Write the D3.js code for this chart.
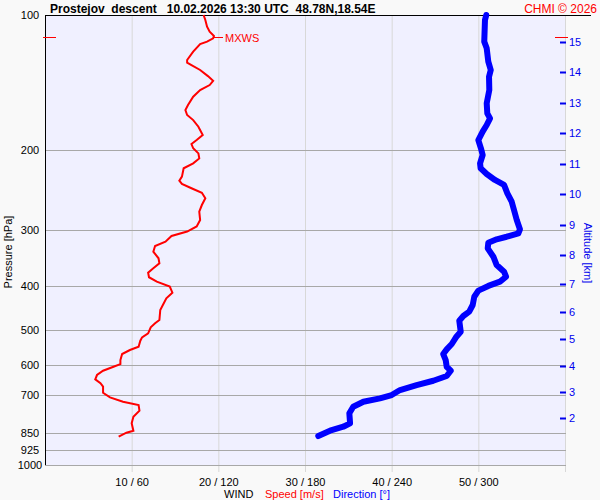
<!DOCTYPE html>
<html>
<head>
<meta charset="utf-8">
<script src="https://cdn.jsdelivr.net/npm/d3@7"></script>
<style>
  body { margin: 0; background: #f9f9f9; }
  svg { display: block; font-family: "Liberation Sans", Arial, sans-serif; }
</style>
</head>
<body>
<div id="chart"></div>
<script>
// wind speed profile (pressure hPa, speed m/s)
const speedP = [100, 102.6, 106.2, 108.9, 111.3, 112.7, 114.6, 116.0, 120.6, 125.9, 127.6, 129.2, 132.5, 136.7, 140.0, 143.1, 146.8, 151.9, 158.5, 162.6, 166.8, 171.2, 177.1, 184.8, 189.6, 193.5, 197.8, 203.0, 208.3, 213.6, 219.1, 228.7, 233.4, 237.4, 242.7, 248.3, 255.5, 264.4, 273.6, 285.5, 295.1, 302.8, 309.8, 319.0, 326.1, 335.7, 347.2, 356.2, 365.4, 373.7, 382.6, 391.3, 401.4, 414.0, 426.1, 441.0, 452.4, 476.1, 484.3, 494.3, 509.7, 520.3, 529.5, 546.0, 555.3, 566.8, 584.5, 596.6, 604.9, 617.3, 631.0, 645.0, 658.2, 669.9, 690.8, 707.4, 723.4, 735.8, 757.5, 781.2, 808.0, 839.2, 847.7, 865.3];
const speedVal = [18.3, 18.5, 18.7, 19.0, 19.5, 19.4, 18.7, 17.9, 17.1, 16.4, 16.4, 16.9, 17.9, 18.8, 19.4, 19.0, 17.9, 17.1, 16.5, 16.2, 16.4, 17.1, 17.7, 18.2, 17.5, 16.9, 17.1, 17.7, 17.8, 17.1, 16.0, 15.8, 15.5, 15.8, 16.9, 18.1, 18.5, 18.1, 17.8, 17.9, 17.5, 16.4, 14.6, 13.9, 12.7, 12.5, 13.1, 13.2, 12.5, 11.9, 12.0, 12.9, 14.4, 14.7, 14.0, 13.6, 13.3, 13.2, 12.7, 12.2, 11.9, 11.2, 11.0, 10.8, 9.8, 8.9, 8.7, 8.7, 7.9, 6.7, 6.0, 5.8, 6.4, 6.7, 6.7, 7.5, 9.0, 10.8, 10.9, 10.2, 10.0, 10.2, 9.4, 8.5];

// wind direction profile (pressure hPa, direction deg)
const dirP = [100, 102.6, 114.6, 118.6, 127.0, 132.5, 137.1, 146.8, 157.1, 165.4, 169.7, 175.6, 181.6, 189.6, 197.8, 204.7, 213.6, 219.1, 225.6, 232.6, 238.6, 249.0, 260.0, 271.3, 285.5, 299.4, 305.6, 311.0, 315.1, 320.6, 330.0, 344.5, 359.4, 371.9, 381.6, 391.3, 400.0, 409.8, 422.7, 441.0, 456.3, 466.6, 477.9, 505.6, 520.3, 538.4, 553.4, 566.8, 584.5, 604.9, 617.3, 634.3, 649.8, 664.2, 681.3, 699.0, 711.0, 723.4, 742.1, 767.7, 808.0, 822.2, 839.2, 862.3];
const dirVal = [305.5, 304.6, 304.1, 305.8, 306.9, 308.6, 307.4, 307.6, 305.8, 306.2, 308.1, 305.8, 303.0, 300.0, 301.8, 303.0, 301.2, 301.6, 305.8, 311.5, 317.8, 320.1, 323.1, 324.7, 326.6, 328.8, 327.7, 319.6, 312.7, 306.9, 306.5, 310.4, 312.7, 317.8, 319.2, 315.0, 306.9, 300.0, 297.2, 296.1, 293.7, 289.6, 286.8, 287.8, 284.5, 281.6, 278.1, 275.7, 277.4, 278.1, 280.9, 278.1, 268.8, 257.3, 245.8, 240.0, 231.9, 220.4, 213.4, 210.7, 211.2, 206.5, 197.3, 189.2];

// axes
const pressTicks = [100, 200, 300, 400, 500, 600, 700, 850, 925, 1000];
const speedTicks = [10, 20, 30, 40, 50];
const altKm = [2, 3, 4, 5, 6, 7, 8, 9, 10, 11, 12, 13, 14, 15];
const altP = [785, 689, 602, 525, 458, 397, 342, 293, 250, 214, 183, 157, 134, 115];

// max wind level
const mxwsP = 112.2;
const mxwsSpeed = 19.5;

const W = 600, H = 500;
const pLeft = 45, pRight = 565, pTop = 15, pBottom = 465;

const svg = d3.select("#chart").append("svg")
  .attr("width", W)
  .attr("height", H);

svg.append("rect").attr("width", W).attr("height", H).attr("fill", "#f9f9f9");

const y = d3.scaleLog().domain([100, 1000]).range([pTop, pBottom]);
const xs = d3.scaleLinear().domain([0, 60]).range([pLeft, pRight]);
const xd = d3.scaleLinear().domain([0, 360]).range([pLeft, pRight]);

// plot area
svg.append("rect")
  .attr("x", pLeft).attr("y", pTop)
  .attr("width", pRight - pLeft + 1).attr("height", pBottom - pTop)
  .attr("fill", "#f0f0ff");

// vertical grid (speed / direction)
svg.selectAll(".vgrid")
  .data(speedTicks.concat([60]))
  .enter().append("line")
  .attr("x1", d => xs(d) + 0.5).attr("x2", d => xs(d) + 0.5)
  .attr("y1", pTop).attr("y2", pBottom + 7)
  .attr("stroke", "#d8d8d8").attr("stroke-width", 1);

// pressure grid
svg.selectAll(".hgrid")
  .data(pressTicks.slice(1))
  .enter().append("line")
  .attr("x1", pLeft).attr("x2", pRight + 1)
  .attr("y1", d => Math.round(y(d)) + 0.5).attr("y2", d => Math.round(y(d)) + 0.5)
  .attr("stroke", "#a8a8a8").attr("stroke-width", 1);

// left axis and top line
svg.append("line")
  .attr("x1", pLeft + 0.5).attr("x2", pLeft + 0.5)
  .attr("y1", pTop).attr("y2", pBottom)
  .attr("stroke", "#000");
svg.append("line")
  .attr("x1", pLeft).attr("x2", 591)
  .attr("y1", pTop + 0.5).attr("y2", pTop + 0.5)
  .attr("stroke", "#000");

// pressure labels
svg.selectAll(".plab")
  .data(pressTicks)
  .enter().append("text")
  .attr("x", 30)
  .attr("y", d => y(d) + 4)
  .attr("text-anchor", "middle")
  .attr("font-size", 11)
  .attr("fill", "#000")
  .text(d => d);

// bottom labels
svg.selectAll(".xlab")
  .data(speedTicks)
  .enter().append("text")
  .attr("x", d => xs(d) + 0.5)
  .attr("y", 486)
  .attr("text-anchor", "middle")
  .attr("font-size", 11)
  .attr("fill", "#000")
  .text(d => d + " / " + d * 6);

// altitude ticks
svg.selectAll(".atick")
  .data(altKm)
  .enter().append("line")
  .attr("x1", 560).attr("x2", 566)
  .attr("y1", (d, i) => Math.round(y(altP[i])) + 0.5)
  .attr("y2", (d, i) => Math.round(y(altP[i])) + 0.5)
  .attr("stroke", "#0000ee").attr("stroke-width", 2);
svg.selectAll(".alab")
  .data(altKm)
  .enter().append("text")
  .attr("x", 569)
  .attr("y", (d, i) => y(altP[i]) + 4)
  .attr("font-size", 11)
  .attr("fill", "#0000ee")
  .text(d => d);

// MXWS marker
const my = Math.round(y(mxwsP)) + 0.5;
svg.append("line").attr("x1", 43).attr("x2", 56).attr("y1", my).attr("y2", my)
  .attr("stroke", "#ff0000");
svg.append("line").attr("x1", 555).attr("x2", 568).attr("y1", my).attr("y2", my)
  .attr("stroke", "#ff0000");
svg.append("line").attr("x1", xs(mxwsSpeed)).attr("x2", xs(mxwsSpeed) + 9)
  .attr("y1", my).attr("y2", my)
  .attr("stroke", "#ff0000");
svg.append("text")
  .attr("x", xs(mxwsSpeed) + 11).attr("y", my + 4)
  .attr("font-size", 11).attr("fill", "#ff0000")
  .text("MXWS");

// direction line
svg.append("path")
  .datum(dirP.map((p, i) => [dirVal[i], p]))
  .attr("fill", "none")
  .attr("stroke", "#0000ff")
  .attr("stroke-width", 6)
  .attr("stroke-linecap", "round")
  .attr("stroke-linejoin", "round")
  .attr("d", d3.line().x(d => xd(d[0])).y(d => y(d[1])));

// speed line
svg.append("path")
  .datum(speedP.map((p, i) => [speedVal[i], p]))
  .attr("fill", "none")
  .attr("stroke", "#ff0000")
  .attr("stroke-width", 2)
  .attr("d", d3.line().x(d => xs(d[0])).y(d => y(d[1])));

// titles
svg.append("text")
  .attr("x", 50).attr("y", 13)
  .attr("font-size", 12).attr("font-weight", "bold")
  .attr("fill", "#000")
  .style("white-space", "pre")
  .text("Prostejov  descent   10.02.2026 13:30 UTC  48.78N,18.54E");
svg.append("text")
  .attr("x", 597).attr("y", 13)
  .attr("text-anchor", "end")
  .attr("font-size", 12).attr("fill", "#ff0000")
  .text("CHMI \u00a9 2026");

svg.append("text")
  .attr("transform", "translate(12,252) rotate(-90)")
  .attr("text-anchor", "middle")
  .attr("font-size", 11).attr("fill", "#000")
  .text("Pressure [hPa]");
svg.append("text")
  .attr("transform", "translate(584,253) rotate(90)")
  .attr("text-anchor", "middle")
  .attr("font-size", 11).attr("fill", "#0000ee")
  .text("Altitude [km]");

// legend
const leg = svg.append("text").attr("y", 498).attr("font-size", 11);
leg.append("tspan").attr("x", 224).attr("fill", "#000").text("WIND");
leg.append("tspan").attr("x", 265).attr("fill", "#ff0000").text("Speed [m/s]");
leg.append("tspan").attr("x", 333).attr("fill", "#0000ff").text("Direction [\u00b0]");
</script>
</body>
</html>
